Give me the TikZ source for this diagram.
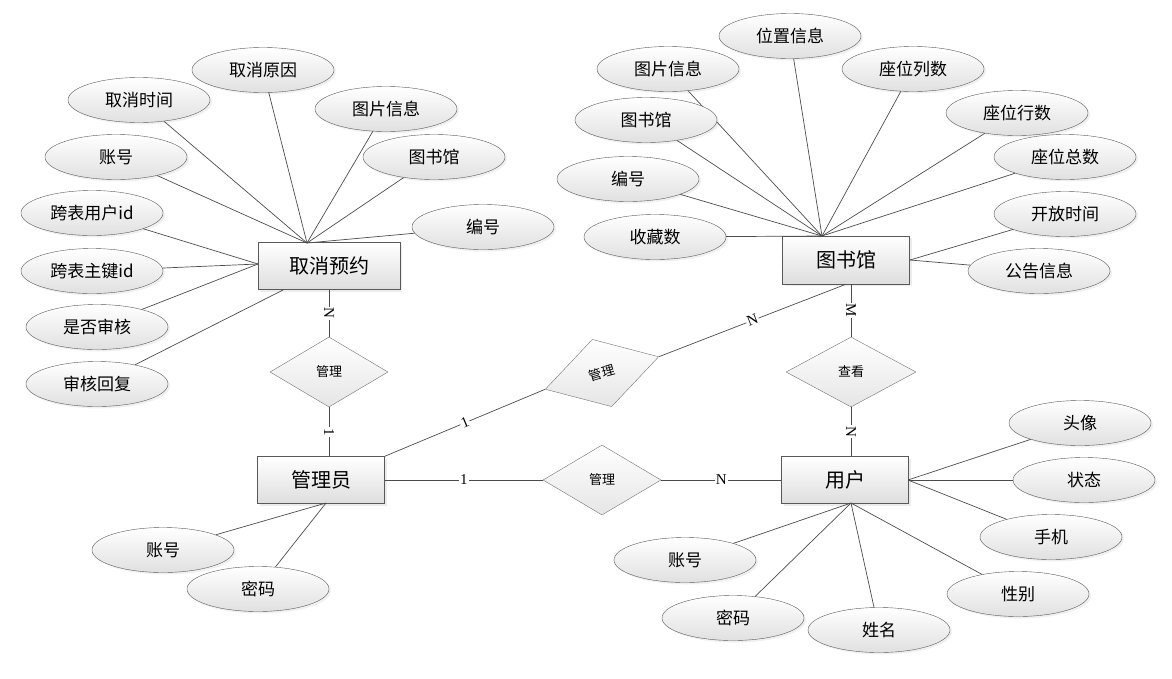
\documentclass[tikz,border=0pt]{standalone}
\usepackage{fontspec}
\setmainfont{Liberation Serif}
\newfontfamily\cjk{Noto Sans CJK SC}
\usetikzlibrary{shapes.geometric,shadows}

\tikzset{
  entity/.style={draw=black!65, top color=white, bottom color=black!13, minimum width=127pt, minimum height=47pt,
    font=\cjk\fontsize{20}{24}\selectfont, drop shadow={opacity=0.15, shadow xshift=2pt, shadow yshift=-2pt}},
  attr/.style={ellipse, draw=black!65, top color=white, bottom color=black!12, minimum width=142pt, minimum height=45pt,
    inner sep=0pt, font=\cjk\fontsize{17}{20}\selectfont, drop shadow={opacity=0.12, shadow xshift=2pt, shadow yshift=-2pt}},
  rel/.style={diamond, draw=black!55, top color=white, bottom color=black!10, minimum width=118pt, minimum height=70pt,
    inner sep=0pt, font=\cjk\fontsize{13}{15}\selectfont},
  conn/.style={draw=black!70, line width=0.7pt},
  card/.style={fill=white, inner sep=1pt, font=\fontsize{15}{15}\selectfont}
}

\begin{document}
\begin{tikzpicture}[x=1pt,y=-1pt]
\useasboundingbox (0,0) rectangle (1172,678);

% entities
\node[entity, minimum width=142pt] (qx) at (329,266) {取消预约};
\node[entity, minimum height=48pt] (tsg) at (846,260) {图书馆};
\node[entity] (gly) at (321,480) {管理员};
\node[entity] (yh) at (845,480) {用户};

% relations
\node[rel] (mg1) at (329,372) {管理};
\node[rel, rotate=16] (mg2) at (602,373) {管理};
\node[rel, minimum width=130pt] (ck) at (851,372) {查看};
\node[rel] (mg3) at (602,480) {管理};

% hubs where the attribute lines meet
\coordinate (qxtop) at (307,243);
\coordinate (qxleft) at (258,264);
\coordinate (qxbot) at (283,290);
\coordinate (tsgtop) at (822,236);
\coordinate (tsgright) at (910,260);
\coordinate (yhbot) at (851,503);
\coordinate (yhright) at (908,480);
\coordinate (glybot) at (326,503);

% attributes
\foreach \nm/\x/\y/\txt/\hub in {
  qa/139/100/取消时间/qxtop, qb/263/70/取消原因/qxtop, qc/386/109/图片信息/qxtop,
  qd/434/157/图书馆/qxtop, qe/116/157/账号/qxtop, qf/483/227/编号/qxtop,
  qg/92/213/跨表用户id/qxleft, qh/92/271/跨表主键id/qxleft, qi/97/327/是否审核/qxleft,
  qj/97/384/审核回复/qxbot,
  ta/790/36/位置信息/tsgtop, tb/668/69/图片信息/tsgtop, tc/913/69/座位列数/tsgtop,
  td/646/120/图书馆/tsgtop, te/1017/113/座位行数/tsgtop, tf/628/179/编号/tsgtop,
  tg/1065/157/座位总数/tsgtop, th/655/237/收藏数/tsgtop,
  ti/1065/214/开放时间/tsgright, tj/1039/271/公告信息/tsgright,
  ua/1080/423/头像/yhright, ub/1084/480/状态/yhright, uc/1051/537/手机/yhright,
  ud/1018/594/性别/yhbot, ue/685/560/账号/yhbot, uf/733/618/密码/yhbot, ug/879/630/姓名/yhbot,
  ga/163/550/账号/glybot, gb/258/589/密码/glybot}
{
  \node[attr] (\nm) at (\x,\y) {\txt};
  \draw[conn] (\nm) -- (\hub);
}

% relationships
\draw[conn] (qx.south -| mg1.north) -- node[card, sloped] {N} (mg1.north);
\draw[conn] (mg1.south) -- node[card, sloped] {1} (mg1.south |- gly.north);
\draw[conn] (tsg.south -| ck.north) -- node[card, sloped] {M} (ck.north);
\draw[conn] (ck.south) -- node[card, sloped] {N} (ck.south |- yh.north);
\draw[conn] (gly.east) -- node[card] {1} (mg3.west);
\draw[conn] (mg3.east) -- node[card] {N} (yh.west);
\draw[conn] (gly.north east) -- node[card, sloped] {1} (mg2.west);
\draw[conn] (mg2.east) -- node[card, sloped] {N} (tsg.south);
\end{tikzpicture}
\end{document}
